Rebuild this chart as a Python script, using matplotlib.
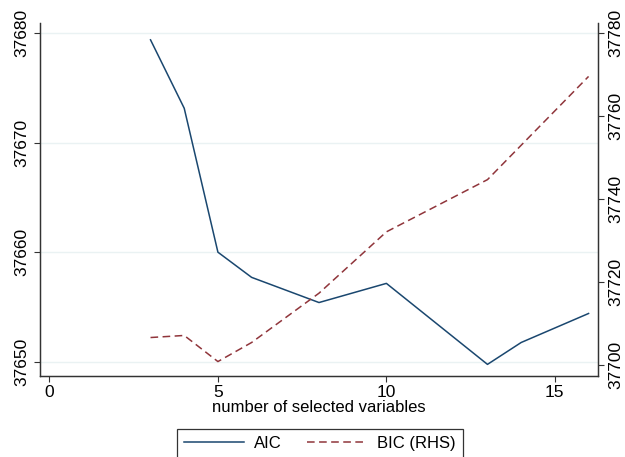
import numpy as np
import matplotlib
matplotlib.use("Agg")
import matplotlib.pyplot as plt

plt.rcParams['font.family'] = ['Liberation Sans', 'DejaVu Sans']
plt.rcParams['lines.scale_dashes'] = False

# values
aic_x = [3, 4, 5, 6, 8, 10, 13, 14, 16]
aic_y = [37679.4, 37673.15, 37660.0, 37657.7, 37655.4, 37657.15, 37649.75, 37651.75, 37654.4]
bic_x = [3, 4, 5, 6, 8, 10, 13, 14, 16]
bic_y = [37706.6, 37707.1, 37700.8, 37705.4, 37717.3, 37732.1, 37744.7, 37753.0, 37769.6]

xticks = [0, 5, 10, 15]
left_ticks = [37650, 37660, 37670, 37680]
right_ticks = [37700, 37720, 37740, 37760, 37780]

navy = '#1a476f'
maroon = '#90353b'
axis_col = '#333333'

fig = plt.figure(figsize=(6.25, 4.57), dpi=100)
ax = fig.add_axes([0.064, 0.178, 0.8928, 0.7717])
ax2 = ax.twinx()

l1, = ax.plot(aic_x, aic_y, color=navy, lw=1.1, label='AIC')
l2, = ax2.plot(bic_x, bic_y, color=maroon, lw=1.1, dashes=(5.5, 3.2), label='BIC (RHS)')

ax.set_xlim(-0.28, 16.28)
ax.set_ylim(37648.72, 37680.94)
ax2.set_ylim(37697.4, 37782.5)

ax.set_xticks(xticks)
ax.set_yticks(left_ticks)
ax2.set_yticks(right_ticks)
ax.yaxis.grid(True, color='#eaf2f3', lw=1.0)
ax.set_axisbelow(True)

for a in (ax, ax2):
    a.spines['top'].set_visible(False)
    for s in ('left', 'right', 'bottom'):
        a.spines[s].set_color(axis_col)
        a.spines[s].set_linewidth(0.9)
    a.tick_params(colors='black', labelsize=12.5, length=4, width=0.8)
ax.tick_params(axis='y', color=axis_col)
ax2.tick_params(axis='y', color=axis_col)
ax.tick_params(axis='x', color=axis_col, pad=3)

for lab in ax.get_yticklabels():
    lab.set_rotation(90)
    lab.set_va('center')
for lab in ax2.get_yticklabels():
    lab.set_rotation(90)
    lab.set_va('center')

ax.set_xlabel('number of selected variables', fontsize=12, labelpad=0)

leg = fig.legend([l1, l2], ['AIC', 'BIC (RHS)'], loc='upper center',
                 bbox_to_anchor=(0.512, 0.062), ncol=2, fontsize=12,
                 handlelength=3.6, handletextpad=0.6, columnspacing=1.5,
                 frameon=True, fancybox=False, borderpad=0.45,
                 borderaxespad=0)
leg.get_frame().set_edgecolor('black')
leg.get_frame().set_linewidth(0.9)

fig.savefig('out.png', dpi=100)
